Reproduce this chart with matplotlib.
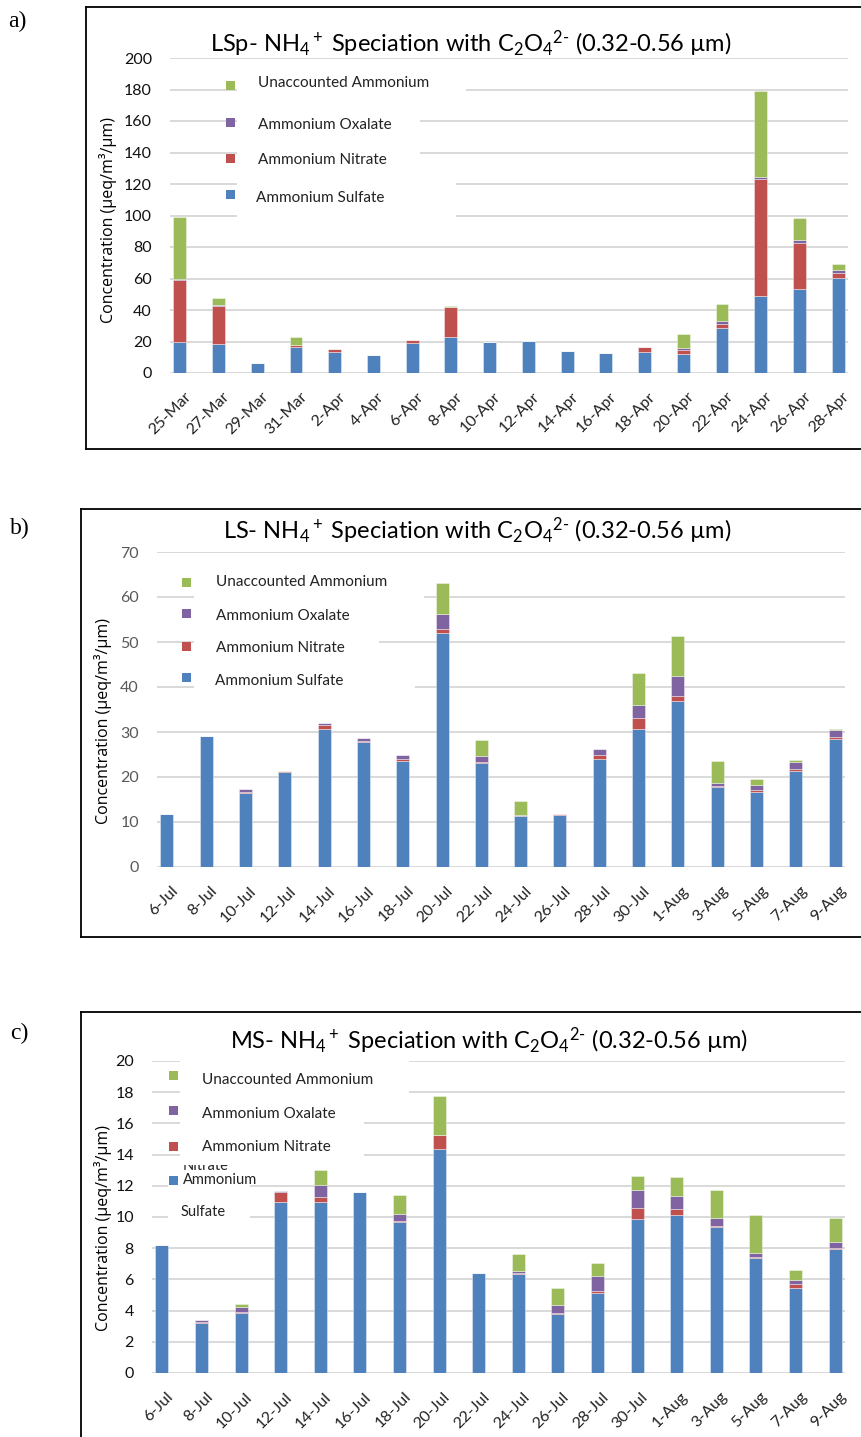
import matplotlib
matplotlib.use("Agg")
import matplotlib.pyplot as plt
from matplotlib.patches import Rectangle
from matplotlib.lines import Line2D
from matplotlib.transforms import ScaledTranslation
import numpy as np

plt.rcParams['font.family'] = ['Lato', 'DejaVu Sans']
plt.rcParams['mathtext.fontset'] = 'custom'
plt.rcParams['mathtext.rm'] = 'Lato'
plt.rcParams['mathtext.it'] = 'Lato:italic'
plt.rcParams['mathtext.bf'] = 'Lato:bold'

# ---- data -------------------------------------------------------------
dates_a = ['25-Mar', '27-Mar', '29-Mar', '31-Mar', '2-Apr', '4-Apr', '6-Apr', '8-Apr',
           '10-Apr', '12-Apr', '14-Apr', '16-Apr', '18-Apr', '20-Apr', '22-Apr',
           '24-Apr', '26-Apr', '28-Apr']
sulfate_a = [19.8, 18.3, 6.3, 16.2, 13.6, 11.3, 19.1, 22.9, 19.4, 20.1, 13.8, 12.9,
             13.6, 12.3, 28.4, 49.2, 53.4, 60.2]
nitrate_a = [39.2, 24.0, 0.0, 1.4, 1.6, 0.0, 1.6, 18.7, 0.0, 0.3, 0.0, 0.0,
             2.9, 2.5, 3.0, 74.2, 28.9, 3.4]
oxalate_a = [0.6, 0.8, 0.0, 0.4, 0.1, 0.0, 0.1, 0.4, 0.0, 0.0, 0.0, 0.0,
             0.3, 0.9, 1.5, 1.1, 2.3, 1.5]
unacc_a = [39.2, 4.3, 0.0, 5.1, 0.0, 0.0, 0.0, 0.4, 0.0, 0.0, 0.0, 0.0,
           0.0, 8.9, 10.8, 54.7, 13.6, 4.0]

dates_bc = ['6-Jul', '8-Jul', '10-Jul', '12-Jul', '14-Jul', '16-Jul', '18-Jul', '20-Jul',
            '22-Jul', '24-Jul', '26-Jul', '28-Jul', '30-Jul', '1-Aug', '3-Aug', '5-Aug',
            '7-Aug', '9-Aug']
sulfate_b = [11.7, 29.1, 16.4, 21.1, 30.6, 27.7, 23.6, 52.1, 23.0, 11.3, 11.5, 24.0,
             30.6, 37.0, 17.8, 16.7, 21.4, 28.5]
nitrate_b = [0.0, 0.0, 0.2, 0.2, 0.9, 0.3, 0.3, 0.7, 0.4, 0.1, 0.3, 0.8,
             2.6, 1.0, 0.2, 0.4, 0.4, 0.4]
oxalate_b = [0.0, 0.0, 0.7, 0.0, 0.5, 0.6, 0.9, 3.5, 1.2, 0.1, 0.0, 1.4,
             2.9, 4.5, 0.6, 1.1, 1.6, 1.5]
unacc_b = [0.0, 0.0, 0.0, 0.0, 0.0, 0.0, 0.0, 6.8, 3.7, 3.1, 0.0, 0.0,
           7.1, 8.9, 5.0, 1.3, 0.3, 0.2]

sulfate_c = [8.21, 3.19, 3.83, 10.93, 10.99, 11.6, 9.69, 14.35, 6.42, 6.35, 3.81, 5.11,
             9.88, 10.1, 9.35, 7.34, 5.48, 7.96]
nitrate_c = [0.0, 0.1, 0.1, 0.7, 0.3, 0.0, 0.08, 0.9, 0.0, 0.05, 0.06, 0.15,
             0.67, 0.4, 0.1, 0.08, 0.21, 0.04]
oxalate_c = [0.0, 0.1, 0.32, 0.04, 0.75, 0.0, 0.45, 0.03, 0.0, 0.17, 0.5, 0.94,
             1.21, 0.82, 0.5, 0.3, 0.3, 0.38]
unacc_c = [0.0, 0.0, 0.17, 0.0, 0.96, 0.0, 1.2, 2.45, 0.0, 1.07, 1.07, 0.86,
           0.86, 1.26, 1.81, 2.4, 0.6, 1.55]

series_names = ['Ammonium Sulfate', 'Ammonium Nitrate', 'Ammonium Oxalate',
                'Unaccounted Ammonium']
colors = ['#4F81BD', '#C0504D', '#8064A2', '#9BBB59']

# ---- figure -----------------------------------------------------------
W, H = 862, 1437
fig = plt.figure(figsize=(W / 100, H / 100), dpi=100)


def fx(x):
    return x / W


def fy(y):
    return 1 - y / H


def frame(left, top, bottom):
    kw = dict(color='black', lw=1.3, transform=fig.transFigure, zorder=5)
    fig.add_artist(Line2D([fx(left), 1.0], [fy(top), fy(top)], **kw))
    fig.add_artist(Line2D([fx(left), fx(left)], [fy(top), fy(min(bottom, H + 5))], **kw))
    if bottom <= H:
        fig.add_artist(Line2D([fx(left), 1.0], [fy(bottom), fy(bottom)], **kw))


def white_box(x0, y0, x1, y1, z=2):
    fig.add_artist(Rectangle((fx(x0), fy(y1)), fx(x1) - fx(x0), fy(y0) - fy(y1),
                             transform=fig.transFigure, facecolor='white',
                             edgecolor='none', zorder=z))


def legend_entry(mx, my, tx, ty, color, label, fs=11):
    fig.add_artist(Rectangle((fx(mx - 4.5), fy(my + 4.5)), 9 / W, 9 / H,
                             transform=fig.transFigure, facecolor=color,
                             edgecolor='none', zorder=4))
    if label:
        fig.text(fx(tx), fy(ty), label, fontsize=fs, ha='left', va='center',
                 color='#222222', zorder=4)


def panel(box, dates, values, ymax, ystep, tick_color):
    left, right, top, bottom = box
    ax = fig.add_axes([fx(left), fy(bottom), fx(right) - fx(left), fy(top) - fy(bottom)])
    x = np.arange(len(dates))
    base = np.zeros(len(dates))
    for vals, c in zip(values, colors):
        ax.bar(x, vals, width=0.33, bottom=base, color=c,
               edgecolor=(1, 1, 1, 0.55), linewidth=0.5, zorder=3)
        base = base + np.asarray(vals)
    ax.set_xlim(-0.25, len(dates) - 0.75)
    ax.set_ylim(0, ymax)
    ax.set_yticks(np.arange(0, ymax + 0.001, ystep))
    ax.yaxis.grid(True, color='#D9D9D9', linewidth=1.4, zorder=0)
    ax.set_axisbelow(True)
    for s in ax.spines.values():
        s.set_visible(False)
    ax.tick_params(axis='both', length=0)
    ax.tick_params(axis='y', pad=13, labelsize=11.5, labelcolor=tick_color)
    ax.set_xticks(x)
    ax.set_xticklabels(dates, rotation=45, ha='right', va='top',
                       rotation_mode='anchor', fontsize=11.5, color='#222222')
    ax.tick_params(axis='x', pad=12)
    shift = ScaledTranslation(4 / 100, 0, fig.dpi_scale_trans)
    for lab in ax.get_xticklabels():
        lab.set_transform(lab.get_transform() + shift)
    return ax


ylabel = 'Concentration (µeq/m³/µm)'
title_tail = r' $\mathrm{NH_4{}^+}$ Speciation with $\mathrm{C_2O_4{}^{2\text{-}}}$ (0.32-0.56 µm)'

# panel a
frame(86, 7, 449)
ax_a = panel((170, 848, 58, 373), dates_a, [sulfate_a, nitrate_a, oxalate_a, unacc_a],
             200, 20, '#111111')
fig.text(fx(471), fy(52), 'LSp-' + title_tail, fontsize=17, ha='center', va='baseline')
fig.text(fx(108), fy(220), ylabel, rotation=90, fontsize=11.5, ha='center', va='center',
         family=['Open Sans', 'DejaVu Sans'])
fig.text(fx(8), fy(27), 'a)', fontsize=17, family=['Liberation Serif'], ha='left', va='baseline')
white_box(237, 72, 466, 100)
white_box(237, 110, 420, 138)
white_box(237, 145, 420, 172)
white_box(237, 178, 456, 222)
legend_entry(231, 85, 258, 83, colors[3], series_names[3])
legend_entry(231, 122, 258, 125, colors[2], series_names[2])
legend_entry(231, 158, 258, 160, colors[1], series_names[1])
legend_entry(231, 194, 256, 198, colors[0], series_names[0])

# panel b
frame(81, 509, 937)
ax_b = panel((157, 845, 552, 867), dates_bc, [sulfate_b, nitrate_b, oxalate_b, unacc_b],
             70, 10, '#595959')
fig.text(fx(477), fy(539), 'LS-' + title_tail, fontsize=17, ha='center', va='baseline')
fig.text(fx(103), fy(721), ylabel, rotation=90, fontsize=11.5, ha='center', va='center',
         family=['Open Sans', 'DejaVu Sans'])
fig.text(fx(10), fy(534), 'b)', fontsize=17, family=['Liberation Serif'], ha='left', va='baseline')
white_box(194, 568, 424, 604)
white_box(194, 604, 379, 632)
white_box(194, 634, 379, 662)
white_box(194, 666, 415, 698)
legend_entry(187, 582, 216, 582, colors[3], series_names[3])
legend_entry(187, 613, 216, 616, colors[2], series_names[2])
legend_entry(187, 646, 216, 648, colors[1], series_names[1])
legend_entry(187, 677, 215, 681, colors[0], series_names[0])

# panel c
frame(81, 1012, 9999)
ax_c = panel((152, 845, 1061, 1373), dates_bc, [sulfate_c, nitrate_c, oxalate_c, unacc_c],
             20, 2, '#111111')
fig.text(fx(489), fy(1049), 'MS-' + title_tail, fontsize=17, ha='center', va='baseline')
fig.text(fx(103), fy(1228), ylabel, rotation=90, fontsize=11.5, ha='center', va='center',
         family=['Open Sans', 'DejaVu Sans'])
fig.text(fx(10), fy(1039), 'c)', fontsize=17, family=['Liberation Serif'], ha='left', va='baseline')
white_box(180, 1052, 409, 1098)
white_box(180, 1100, 364, 1128)
white_box(180, 1132, 364, 1165, z=3)
white_box(168, 1170, 250, 1230)
# leftover wrapped label lines of the sulfate entry
fig.text(fx(183), fy(1170), 'Nitrate', fontsize=10.5, ha='left', va='baseline',
         color='#222222', zorder=2.5)
legend_entry(174, 1075, 202, 1080, colors[3], series_names[3])
legend_entry(174, 1110, 202, 1114, colors[2], series_names[2])
legend_entry(174, 1146, 202, 1147, colors[1], series_names[1])
legend_entry(174, 1180, 183, 1180, colors[0], 'Ammonium', fs=10.5)
fig.text(fx(181), fy(1212), 'Sulfate', fontsize=10.5, ha='left', va='center',
         color='#222222', zorder=4)

fig.savefig('out.png', dpi=100, facecolor='white')
